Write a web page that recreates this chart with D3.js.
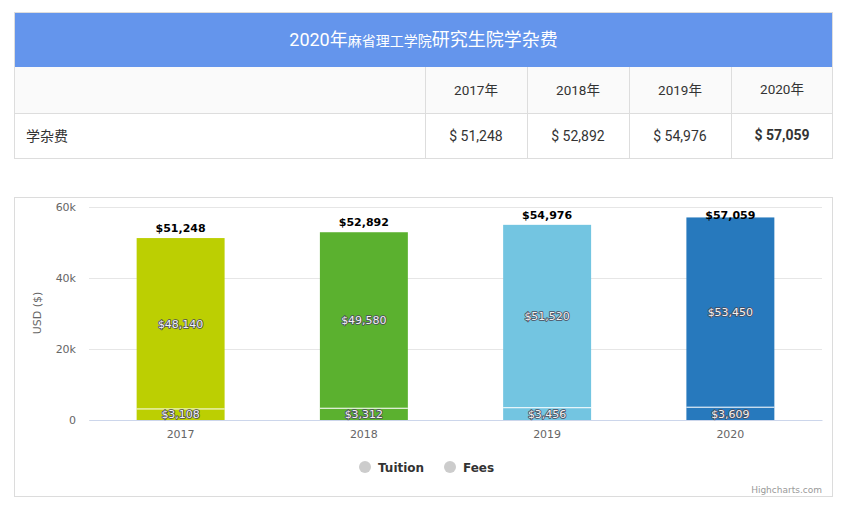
<!DOCTYPE html>
<html lang="zh">
	<head>
		<meta charset="utf-8">
		<title>MIT tuition</title>
		<script type="text/javascript" src="https://cdn.jsdelivr.net/npm/d3@7"></script>
		<style type="text/css">
			body { margin: 0; background: #fff; }
			svg text { font-family: Roboto, 'Noto Sans CJK SC', sans-serif; }
			.hc text { font-family: 'DejaVu Sans', Verdana, sans-serif; }
		</style>
	</head>
	<body>
		<script type="text/javascript">
			var years = ['2017', '2018', '2019', '2020'];
			var tuition = [48140, 49580, 51520, 53450];
			var fees = [3108, 3312, 3456, 3609];
			var yTicks = [0, 20000, 40000, 60000];
			var seriesNames = ['Tuition', 'Fees'];
			var barColors = ['#bccf02', '#5bb12f', '#73c5e1', '#2779bd'];

			var w = 850;
			var h = 507;
			var fmt = d3.format(',');

			var dataset = years.map(function(y, i) {
				return {year: y, tuition: tuition[i], fees: fees[i], total: tuition[i] + fees[i]};
			});

			var svg = d3.select('body').append('svg').attr('width', w).attr('height', h);

			// ---- table ----
			var tb = {'left': 14, 'right': 833, 'top': 12, 'head': 67, 'mid': 113, 'bottom': 159};
			var colX = d3.scaleBand().domain(years).range([425, tb.right]);

			svg.append('rect')
				.attr('x', tb.left).attr('y', tb.top)
				.attr('width', tb.right - tb.left).attr('height', tb.head - tb.top)
				.attr('fill', '#6495ec');
			svg.append('rect')
				.attr('x', tb.left).attr('y', tb.head)
				.attr('width', tb.right - tb.left).attr('height', tb.mid - tb.head)
				.attr('fill', '#fafafa');
			svg.append('rect')
				.attr('x', tb.left + 0.5).attr('y', tb.top + 0.5)
				.attr('width', tb.right - tb.left - 1).attr('height', tb.bottom - tb.top - 1)
				.attr('fill', 'none').attr('stroke', '#dddddd');
			svg.append('line')
				.attr('x1', tb.left).attr('x2', tb.right)
				.attr('y1', tb.mid + 0.5).attr('y2', tb.mid + 0.5)
				.attr('stroke', '#dddddd');
			svg.selectAll('.colline').data(years).enter().append('line')
				.attr('class', 'colline')
				.attr('x1', function(d) { return Math.round(colX(d)) + 0.5; })
				.attr('x2', function(d) { return Math.round(colX(d)) + 0.5; })
				.attr('y1', tb.head).attr('y2', tb.bottom)
				.attr('stroke', '#dddddd');

			var title = svg.append('text')
				.attr('x', (tb.left + tb.right) / 2).attr('y', 46)
				.attr('text-anchor', 'middle').attr('fill', '#fff');
			title.append('tspan').attr('font-size', 18).text('2020年');
			title.append('tspan').attr('font-size', 14).text('麻省理工学院');
			title.append('tspan').attr('font-size', 18).text('研究生院学杂费');

			svg.selectAll('.yearhead').data(years).enter().append('text')
				.attr('class', 'yearhead')
				.attr('x', function(d) { return colX(d) + colX.bandwidth() / 2; })
				.attr('y', function(d, i) { return i == 3 ? 94 : 95; })
				.attr('text-anchor', 'middle').attr('font-size', 13.5).attr('fill', '#333')
				.text(function(d) { return d + '年'; });

			svg.append('text')
				.attr('x', 26).attr('y', 141)
				.attr('font-size', 14).attr('fill', '#333')
				.text('学杂费');

			svg.selectAll('.yearval').data(dataset).enter().append('text')
				.attr('class', 'yearval')
				.attr('x', function(d) { return colX(d.year) + colX.bandwidth() / 2; })
				.attr('y', function(d, i) { return i == 3 ? 140 : 141; })
				.attr('text-anchor', 'middle').attr('font-size', 14).attr('fill', '#333')
				.attr('font-weight', function(d, i) { return i == 3 ? 'bold' : 'normal'; })
				.text(function(d) { return '$ ' + fmt(d.total); });

			// ---- chart ----
			var ch = svg.append('g').attr('class', 'hc');
			ch.append('rect')
				.attr('x', 14.5).attr('y', 197.5)
				.attr('width', 818).attr('height', 299)
				.attr('fill', '#fff').attr('stroke', '#dcdcdc');

			var margin = {'left': 89, 'right': 822, 'top': 207, 'bottom': 420};

			var xScale = d3.scaleBand().domain(years)
				.range([margin.left, margin.right]).paddingInner(0.52).paddingOuter(0.26);
			var yScale = d3.scaleLinear().domain([0, 60000]).range([margin.bottom, margin.top]);

			var yAxis = d3.axisLeft(yScale).tickValues(yTicks)
				.tickSize(-(margin.right - margin.left))
				.tickFormat(function(d) { return d == 0 ? '0' : (d / 1000) + 'k'; });
			var gy = ch.append('g')
				.attr('transform', 'translate(' + margin.left + ',0)')
				.call(yAxis);
			gy.select('.domain').remove();
			gy.selectAll('.tick line').attr('stroke', '#e6e6e6');
			gy.selectAll('.tick text').attr('fill', '#666').attr('font-size', 11).attr('x', -13);

			var xAxis = d3.axisBottom(xScale).tickSize(0).tickPadding(10);
			var gx = ch.append('g')
				.attr('transform', 'translate(0,' + margin.bottom + ')')
				.call(xAxis);
			gx.select('.domain').attr('stroke', '#ccd6eb');
			gx.selectAll('.tick text').attr('fill', '#666').attr('font-size', 11);

			ch.append('text')
				.attr('transform', 'translate(41,313) rotate(-90)')
				.attr('text-anchor', 'middle').attr('fill', '#666').attr('font-size', 11)
				.text('USD ($)');

			// tuition segment (top)
			ch.selectAll('.bar_t').data(dataset).enter().append('rect')
				.attr('class', 'bar_t')
				.attr('x', function(d) { return xScale(d.year); })
				.attr('width', xScale.bandwidth())
				.attr('y', function(d) { return yScale(d.total); })
				.attr('height', function(d) { return yScale(d.fees) - yScale(d.total); })
				.attr('fill', function(d, i) { return barColors[i]; });

			// fees segment (bottom)
			ch.selectAll('.bar_f').data(dataset).enter().append('rect')
				.attr('class', 'bar_f')
				.attr('x', function(d) { return xScale(d.year); })
				.attr('width', xScale.bandwidth())
				.attr('y', function(d) { return yScale(d.fees); })
				.attr('height', function(d) { return yScale(0) - yScale(d.fees); })
				.attr('fill', function(d, i) { return barColors[i]; });

			ch.selectAll('.sep').data(dataset).enter().append('line')
				.attr('class', 'sep')
				.attr('x1', function(d) { return xScale(d.year); })
				.attr('x2', function(d) { return xScale(d.year) + xScale.bandwidth(); })
				.attr('y1', function(d) { return yScale(d.fees); })
				.attr('y2', function(d) { return yScale(d.fees); })
				.attr('stroke', '#fff').attr('stroke-width', 1);

			var inner = function(sel, lo, hi, key) {
				ch.selectAll('.' + sel).data(dataset).enter().append('text')
					.attr('class', sel)
					.attr('x', function(d) { return xScale(d.year) + xScale.bandwidth() / 2; })
					.attr('y', function(d) { return (yScale(lo(d)) + yScale(hi(d))) / 2 + 4; })
					.attr('text-anchor', 'middle').attr('font-size', 11)
					.attr('fill', '#f2f2f2').attr('stroke', '#4a4a5a').attr('stroke-width', 1.6)
					.attr('paint-order', 'stroke').attr('stroke-linejoin', 'round')
					.text(function(d) { return '$' + fmt(d[key]); });
			};
			inner('lab_t', function(d) { return d.fees; }, function(d) { return d.total; }, 'tuition');
			inner('lab_f', function() { return 0; }, function(d) { return d.fees; }, 'fees');

			ch.selectAll('.lab_total').data(dataset).enter().append('text')
				.attr('class', 'lab_total')
				.attr('x', function(d) { return xScale(d.year) + xScale.bandwidth() / 2; })
				.attr('y', function(d) { return Math.max(yScale(d.total) - 6, margin.top + 12); })
				.attr('text-anchor', 'middle').attr('font-size', 11).attr('font-weight', 'bold')
				.attr('fill', '#000')
				.text(function(d) { return '$' + fmt(d.total); });

			// legend
			var legX = [365, 450];
			var leg = ch.selectAll('.leg').data(seriesNames).enter().append('g')
				.attr('class', 'leg')
				.attr('transform', function(d, i) { return 'translate(' + legX[i] + ',467)'; });
			leg.append('circle').attr('r', 6).attr('fill', '#cccccc');
			leg.append('text')
				.attr('x', 13).attr('y', 4.5)
				.attr('font-size', 12).attr('font-weight', 'bold').attr('fill', '#333')
				.text(function(d) { return d; });

			ch.append('text')
				.attr('x', 822).attr('y', 493)
				.attr('text-anchor', 'end').attr('font-size', 9).attr('fill', '#999')
				.text('Highcharts.com');
		</script>
	</body>
</html>
